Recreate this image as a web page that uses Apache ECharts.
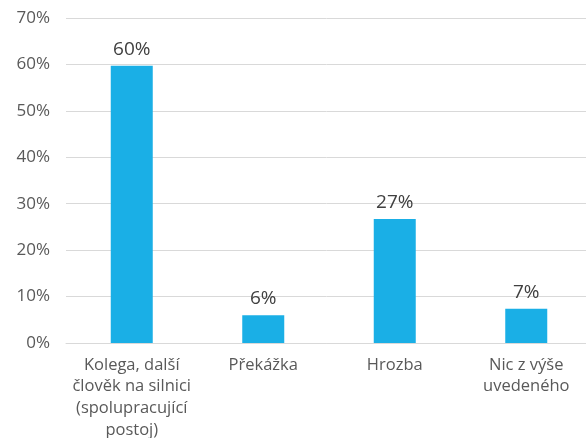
<!DOCTYPE html>
<html><head><meta charset="utf-8">
<script src="https://cdn.jsdelivr.net/npm/echarts@6/dist/echarts.min.js"></script>
<style>html,body{margin:0;padding:0;background:#fff}#c{width:586px;height:438px}</style>
</head><body><div id="c"></div>
<script>
const categories = ['Kolega, další\nčlověk na silnici\n(spolupracující\npostoj)', 'Překážka', 'Hrozba', 'Nic z výše\nuvedeného'];
const values = [59.7, 6.0, 26.7, 7.4];
const yTicks = [0, 10, 20, 30, 40, 50, 60, 70];

const chart = echarts.init(document.getElementById('c'));
chart.setOption({
  animation: false,
  grid: { left: 66, right: -6, top: 18, bottom: 95, containLabel: false, outerBoundsMode: 'none' },
  xAxis: {
    type: 'category', data: categories,
    axisLine: { show: true, lineStyle: { color: '#d9d9d9', width: 1 } },
    axisTick: { show: false },
    axisLabel: { color: '#595959', fontFamily: 'Open Sans', fontSize: 16.5, lineHeight: 21.7, margin: 11, interval: 0 }
  },
  yAxis: {
    type: 'value', min: yTicks[0], max: yTicks[yTicks.length - 1], interval: 10,
    axisLine: { show: false }, axisTick: { show: false },
    splitLine: { lineStyle: { color: '#d9d9d9', width: 1 } },
    axisLabel: { color: '#595959', fontFamily: 'Open Sans', fontSize: 17, margin: 16, formatter: '{value}%' }
  },
  series: [{
    type: 'bar', data: values, barWidth: 42,
    itemStyle: { color: '#1aafe6' },
    label: { show: true, position: 'top', distance: 7, color: '#404040', fontFamily: 'Open Sans', fontSize: 19,
      formatter: p => Math.round(p.value) + '%' }
  }]
});
</script></body></html>
